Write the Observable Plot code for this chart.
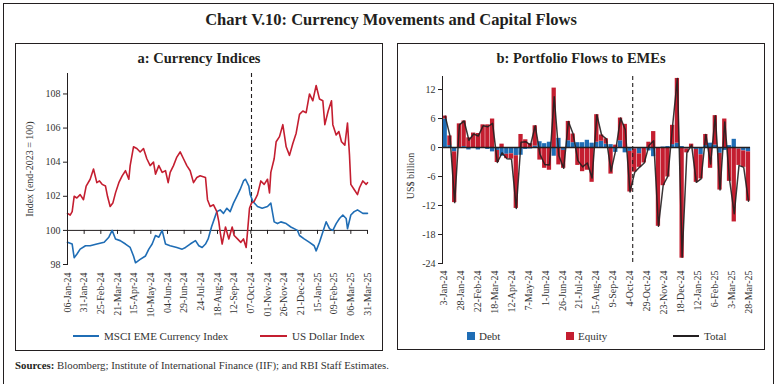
<!DOCTYPE html>
<html><head><meta charset="utf-8">
<script src="https://cdn.jsdelivr.net/npm/d3@7"></script>
<script src="https://cdn.jsdelivr.net/npm/@observablehq/plot@0.6"></script>
<style>
html,body{margin:0;padding:0;background:#fff;}
body{position:relative;width:780px;height:384px;overflow:hidden;font-family:"Liberation Serif","DejaVu Serif",serif;color:#231f20;}
.box{position:absolute;border:1.3px solid #231f20;box-sizing:border-box;}
.t{position:absolute;white-space:nowrap;line-height:1;}
.chart{position:absolute;}
.rot{position:absolute;white-space:nowrap;line-height:1;transform:translate(-50%,-50%) rotate(-90deg);font-size:10px;color:#333;}
</style></head><body>
<div class="box" style="left:3px;top:3px;width:771px;height:400px;"></div>
<div class="box" style="left:15px;top:43px;width:368px;height:308px;"></div>
<div class="box" style="left:397px;top:43px;width:368px;height:307px;"></div>
<div class="t" style="left:0;width:782px;top:12px;text-align:center;font-size:16.5px;font-weight:bold;">Chart V.10: Currency Movements and Capital Flows</div>
<div class="t" style="left:15px;width:368px;top:51px;text-align:center;font-size:14.5px;font-weight:bold;">a: Currency Indices</div>
<div class="t" style="left:397px;width:368px;top:51px;text-align:center;font-size:14.5px;font-weight:bold;">b: Portfolio Flows to EMEs</div>
<div class="rot" style="left:30px;top:169px;">Index (end-2023 = 100)</div>
<div class="rot" style="left:411px;top:176px;">US$ billion</div>
<div id="left" class="chart" style="left:15px;top:65px;"></div>
<div id="right" class="chart" style="left:397px;top:65px;"></div>
<svg class="chart" style="left:0;top:0;" width="780" height="384" id="leg"></svg>
<div class="t" style="left:104px;top:331px;font-size:11px;color:#333;">MSCI EME Currency Index</div>
<div class="t" style="left:292px;top:331px;font-size:11px;color:#333;">US Dollar Index</div>
<div class="t" style="left:479px;top:331px;font-size:11px;color:#333;">Debt</div>
<div class="t" style="left:578px;top:331px;font-size:11px;color:#333;">Equity</div>
<div class="t" style="left:704px;top:331px;font-size:11px;color:#333;">Total</div>
<div class="t" style="left:15px;top:360px;font-size:10.8px;color:#333;"><b style="color:#231f20">Sources:</b> Bloomberg; Institute of International Finance (IIF); and RBI Staff Estimates.</div>
<script>
// ---------- Panel a: currency indices ----------
const usdDates = ["2024-01-06","2024-01-10","2024-01-13","2024-01-16","2024-01-20","2024-01-25","2024-01-30","2024-02-03","2024-02-09","2024-02-14","2024-02-19","2024-02-23","2024-02-27","2024-03-03","2024-03-06","2024-03-10","2024-03-14","2024-03-18","2024-03-23","2024-03-28","2024-04-02","2024-04-07","2024-04-09","2024-04-14","2024-04-19","2024-04-24","2024-04-29","2024-05-04","2024-05-09","2024-05-14","2024-05-17","2024-05-22","2024-05-27","2024-06-01","2024-06-05","2024-06-08","2024-06-13","2024-06-18","2024-06-23","2024-06-28","2024-07-03","2024-07-08","2024-07-13","2024-07-18","2024-07-23","2024-07-31","2024-08-03","2024-08-07","2024-08-12","2024-08-17","2024-08-20","2024-08-22","2024-08-25","2024-08-30","2024-09-04","2024-09-09","2024-09-12","2024-09-17","2024-09-22","2024-09-26","2024-09-30","2024-10-02","2024-10-05","2024-10-08","2024-10-12","2024-10-17","2024-10-22","2024-10-27","2024-11-01","2024-11-04","2024-11-06","2024-11-11","2024-11-14","2024-11-19","2024-11-24","2024-11-29","2024-12-04","2024-12-09","2024-12-14","2024-12-19","2024-12-24","2024-12-29","2025-01-03","2025-01-08","2025-01-13","2025-01-18","2025-01-23","2025-01-26","2025-01-31","2025-02-05","2025-02-07","2025-02-12","2025-02-16","2025-02-20","2025-02-25","2025-03-01","2025-03-04","2025-03-06","2025-03-11","2025-03-16","2025-03-19","2025-03-24","2025-03-29","2025-03-31"];
const usdValues = [101.0,100.9,101.1,102.0,101.9,102.1,101.8,102.6,103.0,103.6,102.8,102.9,102.7,102.6,102.0,101.4,101.6,102.2,102.8,103.2,103.5,103.0,103.8,104.9,104.8,104.6,104.8,104.2,103.8,104.0,103.3,103.8,103.4,103.5,102.8,103.4,103.8,104.3,104.6,104.2,103.8,103.5,102.8,103.1,103.2,103.1,101.8,101.4,101.5,101.1,100.5,99.9,99.2,100.2,99.5,100.2,99.7,99.5,99.3,99.5,99.0,99.9,101.3,101.6,101.7,102.1,102.9,102.7,103.0,102.2,103.4,104.2,105.2,105.5,106.2,104.9,104.4,105.1,105.7,106.8,107.0,106.9,108.0,107.6,108.5,107.7,107.6,106.2,107.0,107.6,106.2,105.6,105.8,105.2,105.0,106.3,104.4,102.7,102.4,102.1,102.5,102.9,102.7,102.8];
const msciDates = ["2024-01-06","2024-01-13","2024-01-16","2024-01-20","2024-01-25","2024-02-02","2024-02-09","2024-02-19","2024-03-01","2024-03-08","2024-03-13","2024-03-18","2024-03-25","2024-04-02","2024-04-09","2024-04-14","2024-04-17","2024-04-24","2024-05-02","2024-05-07","2024-05-12","2024-05-17","2024-05-22","2024-05-27","2024-06-01","2024-06-08","2024-06-18","2024-06-26","2024-07-01","2024-07-08","2024-07-16","2024-07-21","2024-07-26","2024-07-31","2024-08-04","2024-08-09","2024-08-17","2024-08-22","2024-08-27","2024-09-01","2024-09-06","2024-09-11","2024-09-16","2024-09-21","2024-09-26","2024-09-29","2024-10-04","2024-10-06","2024-10-10","2024-10-17","2024-10-24","2024-11-01","2024-11-06","2024-11-11","2024-11-16","2024-11-21","2024-11-29","2024-12-06","2024-12-16","2024-12-19","2024-12-26","2025-01-03","2025-01-10","2025-01-13","2025-01-18","2025-01-23","2025-01-28","2025-02-02","2025-02-07","2025-02-12","2025-02-17","2025-02-22","2025-02-27","2025-03-01","2025-03-06","2025-03-11","2025-03-16","2025-03-24","2025-03-31"];
const msciValues = [99.3,99.2,98.4,98.6,98.9,99.1,99.1,99.2,99.3,99.6,100.0,99.5,99.4,99.2,99.0,98.5,98.1,98.3,98.5,98.9,99.2,99.7,99.6,100.0,99.2,99.1,99.0,98.9,99.0,99.2,99.4,99.1,99.0,99.2,99.5,100.2,101.1,101.2,101.0,101.3,101.1,101.6,102.0,102.4,102.9,103.0,102.6,102.1,101.7,101.4,101.3,101.4,101.6,100.5,100.4,100.5,100.4,100.2,100.0,99.7,99.5,99.3,99.1,98.8,99.3,99.9,100.5,100.1,100.0,100.4,100.7,100.9,100.7,100.1,100.9,101.1,101.2,101.0,101.0];
const leftTickLabels = ["06-Jan-24","31-Jan-24","25-Feb-24","21-Mar-24","15-Apr-24","10-May-24","04-Jun-24","29-Jun-24","24-Jul-24","18-Aug-24","12-Sep-24","07-Oct-24","01-Nov-24","26-Nov-24","21-Dec-24","15-Jan-25","09-Feb-25","06-Mar-25","31-Mar-25"];
const leftYTicks = [98,100,102,104,106,108];

// ---------- Panel b: portfolio flows (weekly, US$ billion) ----------
const debt = [5.9,0.4,-0.9,-0.2,0.2,-0.5,-0.2,-0.5,-0.2,-0.4,-0.9,
 -0.6,-1.8,-1.4,-1.3,-1.7,-1.6,-0.4,-0.3,0.3,
 1.2,0.8,1.1,-1.8,1.9,-0.6,1.4,1.0,1.0,1.0,
 1.5,0.9,1.1,1.3,0.7,0.6,-1.0,1.4,-1.1,-0.8,
 -0.3,-1.3,-0.2,-0.7,-1.9,-0.2,0.1,0.2,0.6,0.9,
 0.2,-0.3,-0.2,-0.4,-1.5,0.4,0.9,0.5,-1.2,-0.6,
 0.4,1.7,-0.3,-0.7,-0.9];
const equity = [0.6,2.0,-10.5,4.9,5.3,2.0,3.0,2.9,4.7,4.7,5.9,
 -2.5,0.7,-0.9,-1.1,-10.9,2.7,1.6,0.8,4.2,
 -2.6,-4.3,-4.7,12.3,-3.6,-3.7,4.0,1.8,-3.7,-5.0,
 -4.7,-7.2,5.7,1.3,1.1,-5.5,0.5,4.7,4.8,-8.4,
 -4.8,-2.8,-3.0,1.1,3.3,-16.1,-7.9,-6.1,4.0,13.4,
 -22.9,-0.8,0.7,-6.8,-5.0,2.3,-4.3,6.1,-7.6,5.9,
 -7.0,-15.4,-3.4,-3.4,-10.2];
const flowStart = "2024-01-05", flowEnd = "2025-03-28"; // weekly Fridays
const rightTickLabels = ["3-Jan-24","28-Jan-24","22-Feb-24","18-Mar-24","12-Apr-24","7-May-24","1-Jun-24","26-Jun-24","21-Jul-24","15-Aug-24","9-Sep-24","4-Oct-24","29-Oct-24","23-Nov-24","18-Dec-24","12-Jan-25","6-Feb-25","3-Mar-25","28-Mar-25"];
const rightYTicks = [-24,-18,-12,-6,0,6,12];
const dividerDate = "2024-10-08";

const BLUE = "#1f6db5", RED = "#c41e30", INK = "#231f20";
const FONT = '"Liberation Serif","DejaVu Serif",serif';
const iso = d3.utcParse("%Y-%m-%d");
const lab = d3.utcParse("%d-%b-%y");

const usd = usdDates.map((d, i) => ({date: iso(d), value: usdValues[i]}));
const msci = msciDates.map((d, i) => ({date: iso(d), value: msciValues[i]}));
const leftTicks = leftTickLabels.map(lab);
const rightTicks = rightTickLabels.map(lab);
const fmtFrom = (ticks, labels) => d => labels[ticks.findIndex(t => +t === +d)] ?? "";

const styleObj = {fontFamily: FONT, fontSize: "10px", color: "#333", background: "transparent", overflow: "visible"};

const left = Plot.plot({
  width: 367, height: 255,
  marginLeft: 52, marginRight: 15, marginTop: 8, marginBottom: 56,
  style: styleObj,
  x: {type: "utc", domain: [iso("2024-01-06"), iso("2025-03-31")]},
  y: {domain: [98, 109.2]},
  marks: [
    Plot.ruleY([100], {stroke: INK, strokeWidth: 1}),
    Plot.ruleX(leftTicks, {x: d => d, y1: 100, y2: 100, insetBottom: -4, stroke: INK, strokeWidth: 1}),
    Plot.ruleX([iso(dividerDate)], {stroke: INK, strokeWidth: 1.1, strokeDasharray: "4,3"}),
    Plot.line(msci, {x: "date", y: "value", stroke: BLUE, strokeWidth: 1.6}),
    Plot.line(usd, {x: "date", y: "value", stroke: RED, strokeWidth: 1.6}),
    Plot.frame({anchor: "left", stroke: INK, strokeWidth: 1}),
    Plot.axisY({ticks: leftYTicks, tickSize: 4, tickPadding: 3, tickFormat: d => String(d), label: null, stroke: INK}),
    Plot.axisX({ticks: leftTicks, tickSize: 0, tickPadding: 8, tickRotate: -90, tickFormat: fmtFrom(leftTicks, leftTickLabels), label: null})
  ]
});
document.getElementById("left").appendChild(left);

const flowDates = d3.utcDay.range(iso(flowStart), d3.utcDay.offset(iso(flowEnd), 1), 7);
const flows = flowDates.map((date, i) => ({date, debt: debt[i], equity: equity[i], total: debt[i] + equity[i]}));
const debtSegs = flows.map(d => ({date: d.date, y1: 0, y2: d.debt}));
const eqSegs = flows.map(d => {
  const base = (d.debt >= 0) === (d.equity >= 0) ? d.debt : 0;
  return {date: d.date, y1: base, y2: base + d.equity};
});
const half = d => d3.utcHour.offset(d.date, -76), half2 = d => d3.utcHour.offset(d.date, 76);

const right = Plot.plot({
  width: 367, height: 255,
  marginLeft: 45, marginRight: 14, marginTop: 11, marginBottom: 57,
  style: styleObj,
  x: {type: "utc", domain: [iso("2024-01-01"), iso("2025-03-31")]},
  y: {domain: [-24, 14.7]},
  marks: [
    Plot.rect(debtSegs, {x1: half, x2: half2, y1: "y1", y2: "y2", fill: BLUE}),
    Plot.rect(eqSegs, {x1: half, x2: half2, y1: "y1", y2: "y2", fill: RED}),
    Plot.ruleY([0], {stroke: INK, strokeWidth: 1.4}),
    Plot.ruleX([iso(dividerDate)], {stroke: INK, strokeWidth: 1.1, strokeDasharray: "4,3"}),
    Plot.line(flows, {x: "date", y: "total", stroke: INK, strokeWidth: 1.5, strokeOpacity: 0.9}),
    Plot.frame({anchor: "left", stroke: INK, strokeWidth: 1}),
    Plot.axisY({ticks: rightYTicks, tickSize: 4, tickPadding: 3, tickFormat: d => String(d), label: null, stroke: INK}),
    Plot.axisX({ticks: rightTicks, tickSize: 0, tickPadding: 7, tickRotate: -90, tickFormat: fmtFrom(rightTicks, rightTickLabels), label: null})
  ]
});
document.getElementById("right").appendChild(right);

// legend swatches
const leg = d3.select("#leg");
leg.append("line").attr("x1", 73).attr("x2", 99).attr("y1", 336).attr("y2", 336).attr("stroke", BLUE).attr("stroke-width", 2);
leg.append("line").attr("x1", 260).attr("x2", 287).attr("y1", 336).attr("y2", 336).attr("stroke", RED).attr("stroke-width", 2);
leg.append("rect").attr("x", 467).attr("y", 332).attr("width", 8).attr("height", 8).attr("fill", BLUE);
leg.append("rect").attr("x", 566).attr("y", 332).attr("width", 8).attr("height", 8).attr("fill", RED);
leg.append("line").attr("x1", 673).attr("x2", 699).attr("y1", 336).attr("y2", 336).attr("stroke", INK).attr("stroke-width", 2);
</script>
</body></html>
